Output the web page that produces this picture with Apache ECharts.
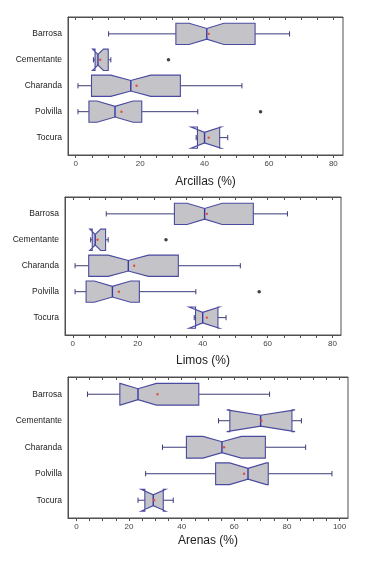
<!DOCTYPE html>
<html>
<head>
<meta charset="utf-8">
<script src="https://cdn.jsdelivr.net/npm/echarts@6/dist/echarts.min.js"></script>
<style>html,body{margin:0;padding:0;background:#fff;}#c{width:379px;height:562px;}</style>
</head>
<body>
<div id="c"></div>
<script>
// Categories (top to bottom)
const categories = ['Barrosa', 'Cementante', 'Charanda', 'Polvilla', 'Tocura'];

// Box statistics per category: [whiskerLow, Q1, median, Q3, whiskerHigh]
const arcillasBox = [[10.2, 31.1, 40.7, 55.7, 66.4], [5.5, 6.0, 6.9, 10.1, 10.9], [0.7, 4.9, 17.1, 32.5, 51.6], [0.7, 4.1, 12.2, 20.5, 37.9], [37.4, 37.8, 40.0, 44.7, 47.2]];
const arcillasNotch = [[35.2, 46.0], [5.2, 8.6], [10.9, 23.3], [6.6, 17.8], [35.8, 45.1]];
const arcillasMean = [41.3, 7.6, 18.9, 14.2, 41.3];
const arcillasOutliers = [[28.8, 2], [57.4, 4]];

const limosBox = [[10.3, 31.3, 40.6, 55.6, 66.1], [5.5, 6.0, 6.9, 10.1, 10.9], [0.7, 4.9, 17.1, 32.5, 51.6], [0.7, 4.1, 12.2, 20.5, 37.9], [37.4, 37.8, 40.0, 44.7, 47.2]];
const limosNotch = [[35.2, 46.0], [5.2, 8.6], [10.9, 23.3], [6.6, 17.8], [35.8, 45.1]];
const limosMean = [41.3, 7.6, 18.9, 14.2, 41.3];
const limosOutliers = [[28.7, 2], [57.4, 4]];

const arenasBox = [[4.2, 16.5, 23.4, 46.5, 73.4], [54.0, 58.3, 70.0, 81.9, 85.5], [32.7, 41.8, 55.3, 71.8, 87.1], [26.3, 52.9, 65.2, 72.9, 97.1], [23.4, 26.0, 29.2, 33.0, 36.8]];
const arenasNotch = [[16.6, 30.4], [57.1, 83.1], [48.1, 62.7], [58.2, 72.2], [24.6, 33.9]];
const arenasMean = [30.8, 70.3, 56.1, 63.7, 29.5];
const arenasOutliers = [];

// Tick labels
const tickLabels80 = [0, 20, 40, 60, 80];
const tickLabels100 = [0, 20, 40, 60, 80, 100];
const minorStep = 5;

const axisNames = ['Arcillas (%)', 'Limos (%)', 'Arenas (%)'];

function ticksUpTo(maxV) { const t = []; for (let v = 0; v <= maxV; v += minorStep) t.push(v); return t; }

const panels = [
  { box: arcillasBox, notch: arcillasNotch, mean: arcillasMean, out: arcillasOutliers, labels: tickLabels80, min: -2.4, max: 83, grid: { left: 68, right: 36, top: 17, height: 138 }, gap: 21 },
  { box: limosBox, notch: limosNotch, mean: limosMean, out: limosOutliers, labels: tickLabels80, min: -2.4, max: 82.6, grid: { left: 65, right: 38, top: 197, height: 138 }, gap: 20 },
  { box: arenasBox, notch: arenasNotch, mean: arenasMean, out: arenasOutliers, labels: tickLabels100, min: -3.2, max: 103.2, grid: { left: 68, right: 31, top: 377, height: 141 }, gap: 17 }
];

const FONT = 'Liberation Sans, Arial, sans-serif';
const frameColor = '#505050';

function renderItem(params, api) {
  const y = api.value(0);
  const lo = api.value(1), q1 = api.value(2), med = api.value(3), q3 = api.value(4), hi = api.value(5);
  const mean = api.value(6), nl = api.value(7), nh = api.value(8);
  const c = (x, dy) => { const p = api.coord([x, y]); return [p[0], p[1] + dy]; };
  const unit = Math.abs(api.size([0, 1])[1]);
  const h = unit * 0.41, hn = h * 0.5, cap = unit * 0.1;
  // fill outline clipped to [q1, q3]
  const top = [], bot = [];
  if (nl < q1) {
    const hh = h - (h - hn) * (q1 - nl) / (med - nl);
    top.push(c(q1, -hh)); bot.push(c(q1, hh));
  } else {
    top.push(c(q1, -h), c(nl, -h)); bot.push(c(q1, h), c(nl, h));
  }
  top.push(c(med, -hn)); bot.push(c(med, hn));
  if (nh > q3) {
    const hh = h - (h - hn) * (nh - q3) / (nh - med);
    top.push(c(q3, -hh)); bot.push(c(q3, hh));
  } else {
    top.push(c(nh, -h), c(q3, -h)); bot.push(c(nh, h), c(q3, h));
  }
  const fillPts = top.concat(bot.reverse());
  const outline = [c(q1, -h), c(nl, -h), c(med, -hn), c(nh, -h), c(q3, -h), c(q3, h), c(nh, h), c(med, hn), c(nl, h), c(q1, h)];
  const lineStyle = { stroke: '#3c3c78', lineWidth: 1 };
  const seg = (a, b, st) => ({ type: 'line', shape: { x1: a[0], y1: a[1], x2: b[0], y2: b[1] }, style: st });
  const children = [
    seg(c(lo, 0), c(q1, 0), lineStyle),
    seg(c(q3, 0), c(hi, 0), lineStyle),
    seg(c(lo, -cap), c(lo, cap), lineStyle),
    seg(c(hi, -cap), c(hi, cap), lineStyle),
    { type: 'polygon', shape: { points: fillPts }, style: { fill: '#c4c4c8', stroke: null } },
    { type: 'polygon', shape: { points: outline }, style: { fill: null, stroke: '#4a4aa0', lineWidth: 1.1 } },
    seg(c(med, -hn), c(med, hn), { stroke: '#3838a8', lineWidth: 1.4 }),
    { type: 'circle', shape: { cx: c(mean, 0)[0], cy: c(mean, 0)[1], r: 1.2 }, style: { fill: '#e0503a' } }
  ];
  return { type: 'group', children: children };
}

const grid = [], xAxis = [], yAxis = [], series = [];
panels.forEach((p, k) => {
  grid.push(Object.assign({ show: true, borderColor: frameColor, borderWidth: 1, backgroundColor: '#fff' }, p.grid));
  const ticks = ticksUpTo(p.labels[p.labels.length - 1]);
  xAxis.push({
    type: 'value', gridIndex: k, min: p.min, max: p.max, position: 'bottom',
    axisLine: { show: true, onZero: false, lineStyle: { color: frameColor, width: 1 } },
    axisTick: { show: true, customValues: ticks, length: 3, lineStyle: { color: frameColor } },
    axisLabel: { customValues: p.labels, fontSize: 8, color: '#444', margin: 5, fontFamily: FONT },
    splitLine: { show: false },
    name: axisNames[k], nameLocation: 'middle', nameGap: p.gap,
    nameTextStyle: { fontSize: 12, color: '#222', fontFamily: FONT }
  });
  xAxis.push({
    type: 'value', gridIndex: k, min: p.min, max: p.max, position: 'top',
    axisLine: { show: true, onZero: false, lineStyle: { color: frameColor, width: 1 } },
    axisTick: { show: true, inside: true, customValues: ticks, length: 3, lineStyle: { color: frameColor } },
    axisLabel: { show: false }, splitLine: { show: false }
  });
  yAxis.push({
    type: 'value', gridIndex: k, inverse: true, min: 0.35, max: 5.67,
    axisLine: { show: true, onZero: false, lineStyle: { color: frameColor, width: 1 } },
    axisTick: { show: false }, splitLine: { show: false },
    axisLabel: { customValues: [1, 2, 3, 4, 5], formatter: v => categories[Math.round(v) - 1] || '', fontSize: 8.5, color: '#222', margin: 6, fontFamily: FONT }
  });
  series.push({
    type: 'custom', xAxisIndex: k * 2, yAxisIndex: k, renderItem: renderItem,
    encode: { x: [1, 2, 3, 4, 5], y: 0 },
    data: p.box.map((b, i) => [i + 1].concat(b, [p.mean[i]], p.notch[i])),
    silent: true
  });
  series.push({
    type: 'scatter', xAxisIndex: k * 2, yAxisIndex: k, symbolSize: 3.5,
    itemStyle: { color: '#111' },
    data: p.out.map(o => [o[0], o[1]]), silent: true
  });
});

const chart = echarts.init(document.getElementById('c'), null, { renderer: 'canvas' });
chart.setOption({ animation: false, backgroundColor: '#fff', grid, xAxis, yAxis, series });
</script>
</body>
</html>
